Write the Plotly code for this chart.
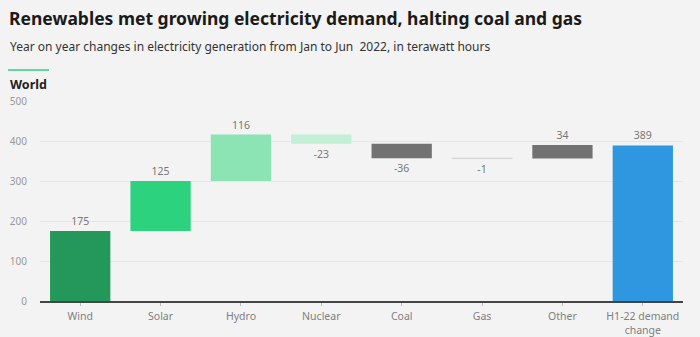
import plotly.graph_objects as go

categories = ["Wind", "Solar", "Hydro", "Nuclear", "Coal", "Gas", "Other", "H1-22 demand<br>change"]
changes = [175, 125, 116, -23, -36, -1, 34]
total_value = 389
colors = ["#23985a", "#2dd27f", "#8ce3b3", "#c4efd7", "#727272", "#d6d6d6", "#727272", "#2f97e0"]

# compute bases from cumulative changes
bases = []
running = 0
for v in changes:
    bases.append(running)
    running += v
values = changes + [total_value]
bases = bases + [0]
labels = [str(v) for v in values]

W, H = 700, 337
L, R, T, B = 40, 17, 101, 36
pw, ph = W - L - R, H - T - B

def px(x):
    return (x - L) / pw

def py(y):
    return (H - B - y) / ph

lab_font = dict(size=10.5, color="#777777", family="Noto Sans")

fig = go.Figure()
fig.add_trace(go.Bar(
    x=categories, y=values, base=bases,
    marker=dict(color=colors, line=dict(width=[0, 0, 0, 0, 0, 1, 0, 0], color=colors)),
    text=labels, textposition="outside", cliponaxis=False,
    textfont=lab_font, outsidetextfont=lab_font, insidetextfont=lab_font,
    width=0.75,
))

fig.update_layout(
    width=W, height=H,
    margin=dict(l=L, r=R, t=T, b=B, autoexpand=False),
    paper_bgcolor="#f3f3f3", plot_bgcolor="#f3f3f3",
    showlegend=False,
    font=dict(family="Noto Sans", color="#777"),
    xaxis=dict(
        showgrid=False, showline=True, linecolor="#444", linewidth=1.5,
        ticks="outside", ticklen=3, tickcolor="#bbb",
        tickfont=dict(size=10.5, color="#808080"),
        range=[-0.5, 7.5], automargin=False,
        ticklabelstandoff=2,
    ),
    yaxis=dict(
        range=[0, 500], tickvals=[0, 100, 200, 300, 400, 500],
        showgrid=True, gridcolor="#e6e6e6", gridwidth=1,
        zeroline=False, showline=False, ticks="",
        tickfont=dict(size=10, color="#999"), automargin=False,
        ticklabelstandoff=12,
    ),
    annotations=[
        dict(text="<b>Renewables met growing electricity demand, halting coal and gas</b>",
             x=px(7), y=py(18), xref="paper", yref="paper", xanchor="left", yanchor="middle",
             showarrow=False, font=dict(size=17.5, color="#1a1a1a", family="Noto Sans")),
        dict(text="Year on year changes in electricity generation from Jan to Jun  2022, in terawatt hours",
             x=px(8), y=py(46), xref="paper", yref="paper", xanchor="left", yanchor="middle",
             showarrow=False, font=dict(size=12, color="#333", family="Noto Sans")),
        dict(text="<b>World</b>",
             x=px(8), y=py(84), xref="paper", yref="paper", xanchor="left", yanchor="middle",
             showarrow=False, font=dict(size=12.5, color="#222", family="Noto Sans")),
    ],
    shapes=[
        dict(type="line", xref="paper", yref="paper", x0=px(8), x1=px(49), y0=py(70), y1=py(70),
             line=dict(color="#5fd99a", width=2)),
    ],
    bargap=0.25,
)

fig.write_html("out.html")
